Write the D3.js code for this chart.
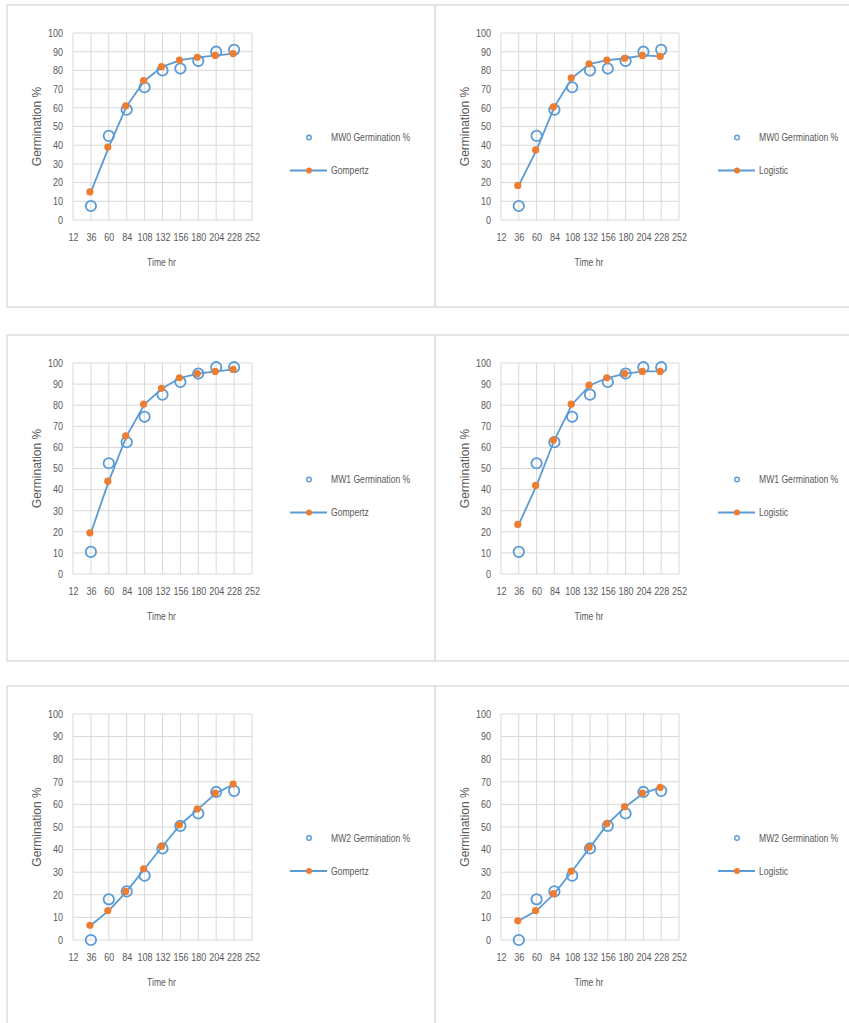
<!DOCTYPE html>
<meta charset="utf-8">
<style>
    body { margin: 0; background: #fff; }
    text {
        font-family: 'Liberation Sans', Arial, sans-serif;
        fill: #595959;
    }
    .grid line { stroke: #d9d9d9; stroke-width: 1; }
    .box { fill: none; stroke: #dedede; stroke-width: 1.5; }
</style>
<svg width="849" height="1023"></svg>
<script src="https://d3js.org/d3.v7.min.js"></script>
<script>

    var hours = [36, 60, 84, 108, 132, 156, 180, 204, 228];
    var xTicks = [12, 36, 60, 84, 108, 132, 156, 180, 204, 228, 252];
    var yTicks = [0, 10, 20, 30, 40, 50, 60, 70, 80, 90, 100];

    var mw0Observed = [7.5, 45, 59, 71, 80, 81, 85, 90, 91];
    var mw0Gompertz = [15, 39, 61, 74.5, 82, 85.5, 87, 88, 89];
    var mw0Logistic = [18.5, 37.5, 60.5, 76, 83.5, 85.5, 86.5, 88, 87.5];

    var mw1Observed = [10.5, 52.5, 62.5, 74.5, 85, 91, 95, 98, 98];
    var mw1Gompertz = [19.5, 44, 65.5, 80.5, 88, 93, 95, 96, 97];
    var mw1Logistic = [23.5, 42, 63.5, 80.5, 89.5, 93, 95, 96, 96];

    var mw2Observed = [0, 18, 21.5, 28.5, 40.5, 50.5, 56, 65.5, 66];
    var mw2Gompertz = [6.5, 13, 21.5, 31.5, 41.5, 51, 58, 65, 69];
    var mw2Logistic = [8.5, 13, 20.5, 30.5, 41, 51.5, 59, 65, 67.5];

    var panels = [
        {name: "MW0 Germination %", model: "Gompertz", obs: mw0Observed, fit: mw0Gompertz, col: 0, row: 0},
        {name: "MW0 Germination %", model: "Logistic", obs: mw0Observed, fit: mw0Logistic, col: 1, row: 0},
        {name: "MW1 Germination %", model: "Gompertz", obs: mw1Observed, fit: mw1Gompertz, col: 0, row: 1},
        {name: "MW1 Germination %", model: "Logistic", obs: mw1Observed, fit: mw1Logistic, col: 1, row: 1},
        {name: "MW2 Germination %", model: "Gompertz", obs: mw2Observed, fit: mw2Gompertz, col: 0, row: 2},
        {name: "MW2 Germination %", model: "Logistic", obs: mw2Observed, fit: mw2Logistic, col: 1, row: 2}
    ];

    // frame layout
    var cols = [{x0: 7, x1: 435, left: 73, right: 252}, {x0: 435, x1: 870, left: 501, right: 679}];
    var rows = [{y0: 5, y1: 307, top: 33, bottom: 220},
                {y0: 335, y1: 661, top: 363, bottom: 574},
                {y0: 686, y1: 1040, top: 714, bottom: 940}];

    var blue = "#5b9bd5", orange = "#ed7d31";
    var squeeze = 0.86;   // text in the picture is horizontally condensed
    var svg = d3.select("svg");

    panels.forEach(function(p) {
        var c = cols[p.col], r = rows[p.row];

        svg.append("rect").attr("class", "box")
            .attr("x", c.x0).attr("y", r.y0)
            .attr("width", c.x1 - c.x0).attr("height", r.y1 - r.y0);

        var x = d3.scaleLinear().domain([12, 252]).range([c.left, c.right]);
        var y = d3.scaleLinear().domain([0, 100]).range([r.bottom, r.top]);
        var g = svg.append("g");

        var grid = g.append("g").attr("class", "grid");
        grid.selectAll(".v").data(xTicks).enter().append("line")
            .attr("x1", x).attr("x2", x).attr("y1", r.top).attr("y2", r.bottom);
        grid.selectAll(".h").data(yTicks).enter().append("line")
            .attr("y1", y).attr("y2", y).attr("x1", c.left).attr("x2", c.right);

        var yAxis = g.append("g")
            .attr("transform", "translate(" + c.left + ",0)")
            .call(d3.axisLeft(y).tickValues(yTicks).tickSize(0));
        yAxis.select(".domain").remove();
        yAxis.selectAll("text")
            .attr("x", -10 / squeeze)
            .attr("transform", "scale(" + squeeze + ",1)")
            .style("font-size", "10.5px").style("fill", "#595959")
            .style("font-family", "'Liberation Sans', Arial, sans-serif");

        var xAxis = g.append("g")
            .attr("transform", "translate(0," + r.bottom + ")")
            .call(d3.axisBottom(x).tickValues(xTicks).tickSize(0).tickPadding(14));
        xAxis.select(".domain").remove();
        xAxis.selectAll("text")
            .attr("transform", "scale(" + squeeze + ",1)")
            .style("font-size", "10.5px").style("fill", "#595959")
            .style("font-family", "'Liberation Sans', Arial, sans-serif");

        g.append("text")
            .attr("transform", "translate(" + ((c.left + c.right) / 2 - 1) + "," + (r.bottom + 46) + ") scale(" + squeeze + ",1)")
            .attr("text-anchor", "middle")
            .style("font-size", "10px")
            .text("Time hr");

        var midY = (r.top + r.bottom) / 2;
        g.append("text")
            .attr("transform", "translate(" + (c.left - 32) + "," + midY + ") rotate(-90)")
            .attr("text-anchor", "middle")
            .style("font-size", "12px")
            .text("Germination %");

        var line = d3.line()
            .x(function(d, i) { return x(hours[i]); })
            .y(function(d) { return y(d); });

        g.append("path").datum(p.fit)
            .attr("d", line)
            .attr("fill", "none")
            .attr("stroke", blue)
            .attr("stroke-width", 1.8);

        g.selectAll(".obs").data(p.obs).enter().append("circle")
            .attr("cx", function(d, i) { return x(hours[i]); })
            .attr("cy", y)
            .attr("r", 5.2)
            .attr("fill", "none")
            .attr("stroke", blue)
            .attr("stroke-width", 1.8);

        g.selectAll(".fit").data(p.fit).enter().append("circle")
            .attr("cx", function(d, i) { return x(hours[i]) - 1; })
            .attr("cy", y)
            .attr("r", 3.6)
            .attr("fill", orange);

        // legend
        var lx = c.left + 236;
        g.append("circle")
            .attr("cx", lx).attr("cy", midY + 11).attr("r", 2.3)
            .attr("fill", "none").attr("stroke", blue).attr("stroke-width", 1.4);
        g.append("text")
            .attr("transform", "translate(" + (lx + 22) + "," + (midY + 11) + ") scale(" + squeeze + ",1)")
            .attr("dy", "0.35em")
            .style("font-size", "10px")
            .text(p.name);
        g.append("line")
            .attr("x1", lx - 19).attr("x2", lx + 18)
            .attr("y1", midY + 44).attr("y2", midY + 44)
            .attr("stroke", blue).attr("stroke-width", 1.8);
        g.append("circle")
            .attr("cx", lx).attr("cy", midY + 44).attr("r", 3)
            .attr("fill", orange);
        g.append("text")
            .attr("transform", "translate(" + (lx + 22) + "," + (midY + 44) + ") scale(" + squeeze + ",1)")
            .attr("dy", "0.35em")
            .style("font-size", "10px")
            .text(p.model);
    });

</script>
